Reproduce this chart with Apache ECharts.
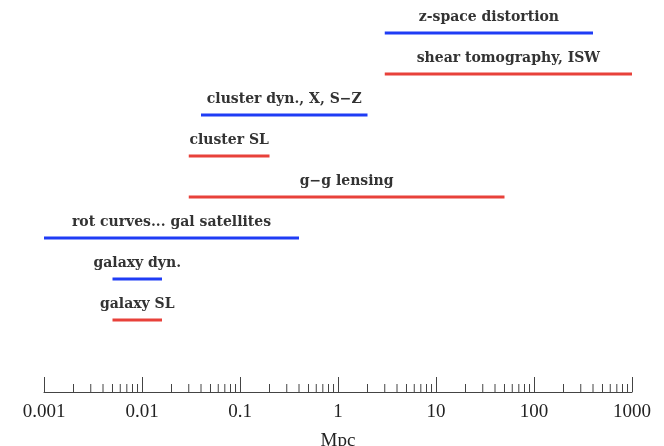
<!DOCTYPE html>
<html>
<head>
<meta charset="utf-8">
<script src="https://cdn.jsdelivr.net/npm/echarts@6/dist/echarts.min.js"></script>
<style>html,body{margin:0;padding:0;background:#fff}#c{width:664px;height:446px}</style>
</head>
<body>
<div id="c"></div>
<script>
const labels = ['z-space distortion', 'shear tomography, ISW', 'cluster dyn., X, S\u2212Z', 'cluster SL', 'g\u2212g lensing', 'rot curves... gal satellites', 'galaxy dyn.', 'galaxy SL'];
const starts = [3, 3, 0.04, 0.03, 0.03, 0.001, 0.005, 0.005];
const ends = [400, 1000, 2, 0.2, 50, 0.4, 0.016, 0.016];
const kinds = ['dyn', 'lens', 'dyn', 'lens', 'lens', 'dyn', 'dyn', 'lens'];
const tickLabels = ['0.001', '0.01', '0.1', '1', '10', '100', '1000'];
const minorMultipliers = [2, 3, 4, 5, 6, 7, 8, 9];

const colorMap = { dyn: '#1f3cf5', lens: '#e8413a' };

const segData = labels.map((l, i) => [starts[i], ends[i], i, kinds[i], l]);
const minorData = [];
tickLabels.slice(0, -1).forEach(t => {
  const base = parseFloat(t);
  minorMultipliers.forEach(m => minorData.push([+(base * m).toPrecision(3)]));
});

const chart = echarts.init(document.getElementById('c'));
chart.setOption({
  animation: false,
  grid: { left: 44, right: 32, top: 0, bottom: 54, containLabel: false, outerBoundsMode: 'none' },
  xAxis: {
    type: 'log',
    position: 'bottom',
    min: 0.001,
    max: 1000,
    logBase: 10,
    interval: 1,
    name: 'Mpc',
    nameLocation: 'middle',
    nameGap: 40,
    nameTextStyle: { fontFamily: 'Liberation Serif', fontSize: 19, color: '#222' },
    axisLine: { show: true, onZero: false, lineStyle: { color: '#444', width: 1 } },
    axisTick: { show: true, inside: true, length: 15, lineStyle: { color: '#444', width: 1 } },
    axisLabel: {
      margin: 11,
      fontFamily: 'Liberation Serif',
      fontSize: 19,
      color: '#222',
      formatter: v => tickLabels.find(t => Math.abs(Math.log10(parseFloat(t)) - Math.log10(v)) < 1e-6) || ''
    },
    splitLine: { show: false }
  },
  yAxis: {
    type: 'value',
    inverse: true,
    min: -33 / 41,
    max: 359 / 41,
    show: false
  },
  series: [
    {
      type: 'custom',
      data: segData,
      encode: { x: [0, 1], y: 2 },
      clip: false,
      renderItem: (params, api) => {
        const p1 = api.coord([api.value(0), api.value(2)]);
        const p2 = api.coord([api.value(1), api.value(2)]);
        const idx = params.dataIndex;
        const color = colorMap[segData[idx][3]];
        return {
          type: 'group',
          children: [
            { type: 'line', shape: { x1: p1[0], y1: p1[1], x2: p2[0], y2: p2[1] }, style: { stroke: color, lineWidth: 3 } },
            { type: 'text', x: (p1[0] + p2[0]) / 2, y: p1[1] - 16,
              style: { text: segData[idx][4], align: 'center', verticalAlign: 'middle', fontFamily: 'DejaVu Serif', fontWeight: 'bold', fontSize: 14, fill: '#333' } }
          ]
        };
      }
    },
    {
      type: 'custom',
      data: minorData,
      encode: { x: 0 },
      clip: false,
      renderItem: (params, api) => {
        const p = api.coord([api.value(0), 0]);
        const yb = params.coordSys.y + params.coordSys.height;
        return { type: 'line', shape: { x1: p[0], y1: yb, x2: p[0], y2: yb - 8 }, style: { stroke: '#444', lineWidth: 1 } };
      }
    }
  ]
});
</script>
</body>
</html>
